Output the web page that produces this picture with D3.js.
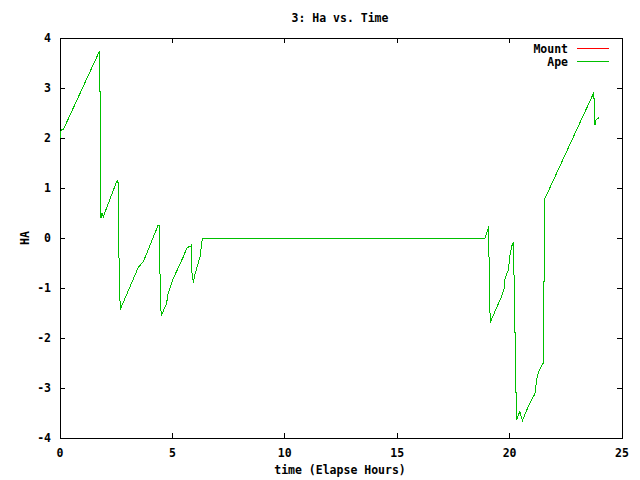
<!DOCTYPE html>
<html><head><meta charset="utf-8">
<script src="https://cdn.jsdelivr.net/npm/d3@7"></script>
<style>body{margin:0;background:#fff}svg text{font-family:"DejaVu Sans Mono",monospace;font-weight:bold;font-size:11.5px}</style>
</head><body><svg id="c" width="640" height="480"></svg>
<script>
const title = "3: Ha vs. Time";
const xLabel = "time (Elapse Hours)";
const yLabel = "HA";
const seriesNames = ["Mount", "Ape"];
const xTicks = [0, 5, 10, 15, 20, 25];
const yTicks = [-4, -3, -2, -1, 0, 1, 2, 3, 4];
const time = [0, 0.05, 0.09, 0.14, 1.75, 1.75, 1.79, 1.79, 1.82, 1.82, 1.87, 1.93, 2.52, 2.58, 2.59, 2.59, 2.64, 2.64, 2.68, 2.68,
  3.48, 3.71, 4.37, 4.41, 4.42, 4.42, 4.47, 4.47, 4.50, 4.50, 4.74, 4.81, 5.04, 5.49, 5.63, 5.74, 5.83, 5.86, 5.87, 5.87, 5.93, 5.98, 6.23, 6.30, 6.33,
  18.91, 18.98, 19.03, 19.07, 19.08, 19.08, 19.11, 19.11, 19.14, 19.14, 19.28, 19.65, 19.75, 19.80, 19.94, 20.02, 20.09, 20.16, 20.21, 20.21, 20.27, 20.27, 20.31, 20.31,
  20.39, 20.46, 20.51, 20.57, 20.83, 21.13, 21.20, 21.28, 21.47, 21.51, 21.51, 21.54, 21.54, 23.73, 23.77, 23.77, 23.80, 23.80, 23.84, 23.90, 23.99];
const ape = [2.0, 2.16, 2.18, 2.16, 3.73, 2.93, 2.93, 1.23, 1.23, 0.40, 0.50, 0.43, 1.13, 1.16, 0.51, 0.51, -0.77, -0.77, -1.43, -1.43,
  -0.59, -0.47, 0.26, 0.25, -0.21, -0.21, -1.10, -1.10, -1.56, -1.56, -1.31, -1.11, -0.81, -0.37, -0.21, -0.17, -0.17, -0.13, -0.69, -0.69, -0.89, -0.77, -0.37, -0.14, 0,
  0, 0.09, 0.17, 0.24, -0.24, -0.24, -1.19, -1.19, -1.69, -1.69, -1.54, -1.16, -1.03, -0.81, -0.64, -0.34, -0.17, -0.09, -0.97, -0.97, -2.75, -2.75, -3.64, -3.64,
  -3.54, -3.47, -3.56, -3.65, -3.37, -3.11, -2.84, -2.69, -2.51, -2.51, -0.86, -0.86, 0.76, 2.89, 2.73, 2.73, 2.26, 2.26, 2.36, 2.38, 2.41];
const mount = ape.slice();

const svg = d3.select("#c");
const L = 60, R = 622, T = 38, B = 438;
const x = d3.scaleLinear().domain([0, 25]).range([L, R]);
const y = d3.scaleLinear().domain([-4, 4]).range([B, T]);
const tl = 5;

const g = svg.append("g").attr("shape-rendering", "crispEdges");
xTicks.forEach(t => {
  g.append("line").attr("x1", x(t)).attr("x2", x(t)).attr("y1", B).attr("y2", B - tl).attr("stroke", "#000");
  g.append("line").attr("x1", x(t)).attr("x2", x(t)).attr("y1", T).attr("y2", T + tl).attr("stroke", "#000");
  svg.append("text").attr("x", x(t)).attr("y", 457).attr("text-anchor", "middle").text(t);
});
yTicks.forEach(t => {
  g.append("line").attr("x1", L).attr("x2", L + tl).attr("y1", y(t)).attr("y2", y(t)).attr("stroke", "#000");
  g.append("line").attr("x1", R).attr("x2", R - tl).attr("y1", y(t)).attr("y2", y(t)).attr("stroke", "#000");
  svg.append("text").attr("x", 51).attr("y", y(t) + 4).attr("text-anchor", "end").text(t);
});

const line = d3.line().x(d => x(d[0])).y(d => y(d[1]));
const colors = ["#ff0000", "#00c000"];
[mount, ape].forEach((s, i) => {
  svg.append("path").datum(time.map((t, j) => [t, s[j]])).attr("d", line)
    .attr("fill", "none").attr("stroke", colors[i]).attr("stroke-width", 1).attr("shape-rendering", "crispEdges");
});

g.append("rect").attr("x", L + 0.5).attr("y", T + 0.5).attr("width", R - L).attr("height", B - T)
  .attr("fill", "none").attr("stroke", "#000");

seriesNames.forEach((n, i) => {
  const ly = 48.5 + i * 13;
  svg.append("text").attr("x", 568).attr("y", ly + 4).attr("text-anchor", "end").text(n);
  svg.append("line").attr("x1", 577).attr("x2", 609).attr("y1", ly).attr("y2", ly)
    .attr("stroke", colors[i]).attr("stroke-width", 1);
});

svg.append("text").attr("x", 340).attr("y", 22).attr("text-anchor", "middle").text(title);
svg.append("text").attr("x", 340).attr("y", 474).attr("text-anchor", "middle").text(xLabel);
svg.append("text").attr("transform", "translate(29,238) rotate(-90)").attr("text-anchor", "middle").text(yLabel);
</script></body></html>
